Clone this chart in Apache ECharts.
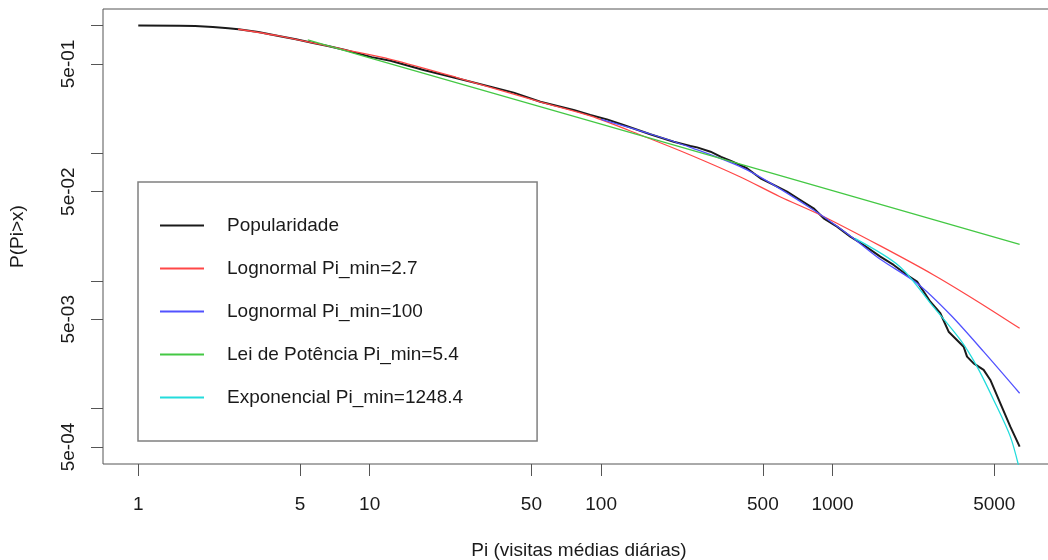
<!DOCTYPE html>
<html>
<head>
<meta charset="utf-8">
<script src="https://cdn.jsdelivr.net/npm/echarts@6/dist/echarts.min.js"></script>
<style>
html,body{margin:0;padding:0;background:#fff;}
#chart{width:1048px;height:560px;}
</style>
</head>
<body>
<div id="chart"></div>
<script>
// ---- Data ----
const seriesNames = ['Popularidade', 'Lognormal Pi_min=2.7', 'Lognormal Pi_min=100', 'Lei de Potência Pi_min=5.4', 'Exponencial Pi_min=1248.4'];

const popX = [1, 1.5, 1.76, 2.1, 2.45, 2.71, 3.3, 4.04, 4.8, 5.63, 6.6, 7.85, 10.2, 12.3, 17.1, 23.8, 33.2, 41.9, 54.6, 76.1, 89.8, 106, 125, 163, 206, 243, 260, 297, 330, 362, 427, 488, 557, 636, 726, 828, 916, 1046, 1194, 1363, 1609, 1837, 2099, 2319, 2647, 2923, 3175, 3686, 3813, 4072, 4498, 4808, 5312, 5867, 6436];
const popY = [1, 0.996, 0.991, 0.975, 0.951, 0.934, 0.89, 0.828, 0.78, 0.733, 0.69, 0.643, 0.565, 0.530, 0.448, 0.386, 0.332, 0.298, 0.253, 0.218, 0.199, 0.184, 0.166, 0.1406, 0.123, 0.114, 0.111, 0.1027, 0.0935, 0.0874, 0.0762, 0.0636, 0.0564, 0.0499, 0.0430, 0.0370, 0.0309, 0.0266, 0.0222, 0.0191, 0.01547, 0.01332, 0.01112, 0.00986, 0.00687, 0.00558, 0.0040, 0.00305, 0.00255, 0.00226, 0.00201, 0.001675, 0.0011, 0.000722, 0.000503];

const lnAllX = [2.7, 4.04, 7.85, 12.3, 23.6, 54.6, 89.8, 148, 243, 400, 593, 887, 1609, 2735, 4200, 6436];
const lnAllY = [0.934, 0.828, 0.645, 0.543, 0.393, 0.252, 0.1956, 0.1388, 0.0968, 0.0651, 0.0456, 0.0328, 0.01877, 0.01112, 0.00696, 0.00425];

const ln100X = [100, 163, 243, 427, 828, 1194, 1609, 2319, 3240, 4498, 6436];
const ln100Y = [0.1836, 0.1413, 0.1112, 0.0739, 0.0359, 0.02247, 0.01476, 0.00958, 0.0054, 0.00279, 0.001318];

const plX = [5.4, 10, 100, 1000, 6436];
const plY = [0.77, 0.557, 0.1687, 0.0510, 0.01935];

const expX = [1248.4, 1956, 2724, 3570, 4212, 4970, 5867, 6436];
const expY = [0.0215, 0.01292, 0.00628, 0.003444, 0.00213, 0.001168, 0.000603, 0.00033];

const xTicks = [1, 5, 10, 50, 100, 500, 1000, 5000];
const yTicks = [1, 0.5, 0.1, 0.05, 0.01, 0.005, 0.001, 0.0005];
const yLabelTicks = [0.5, 0.05, 0.005, 0.0005];

const colors = ['#1a1a1a', '#ff4747', '#5252ff', '#44c844', '#24dcdc'];

// ---- helpers ----
function pairs(xs, ys) { return xs.map((x, i) => [x, ys[i]]); }
function rSci(v) {
  const s = v.toExponential(0).split('e');
  const e = parseInt(s[1], 10);
  const sign = e < 0 ? '-' : '+';
  const a = Math.abs(e);
  return s[0] + 'e' + sign + (a < 10 ? '0' + a : '' + a);
}

const FONT = 'Liberation Sans, Arial, Helvetica, sans-serif';
const TXT = '#1a1a1a';
const AX = '#555';

const chart = echarts.init(document.getElementById('chart'), null, {renderer: 'canvas'});

const lineSeries = (name, data, color, width, smooth, z) => ({
  name: name,
  type: 'line',
  data: data,
  symbol: 'none',
  smooth: smooth,
  clip: true,
  z: z,
  lineStyle: {color: color, width: width},
  itemStyle: {color: color},
  emphasis: {disabled: true},
  animation: false
});

chart.setOption({
  animation: false,
  backgroundColor: '#fff',
  grid: {
    left: 103, top: 9, right: -7, bottom: 96,
    outerBoundsMode: 'none',
    containLabel: false,
    show: true, borderColor: AX, borderWidth: 1, backgroundColor: 'transparent'
  },
  xAxis: {
    type: 'log', logBase: 10, min: 0.704, max: 9150,
    axisLine: {show: false},
    axisTick: {show: true, length: 12, inside: false, customValues: xTicks, lineStyle: {color: AX, width: 1}},
    axisLabel: {customValues: xTicks, margin: 31, fontSize: 19, fontFamily: FONT, color: TXT,
      formatter: v => String(Math.round(v))},
    splitLine: {show: false},
    minorTick: {show: false},
    name: 'Pi (visitas médias diárias)',
    nameLocation: 'middle', nameGap: 77,
    nameTextStyle: {fontSize: 19, fontFamily: FONT, color: TXT}
  },
  yAxis: {
    type: 'log', logBase: 10, min: 0.000368, max: 1.346,
    axisLine: {show: false},
    axisTick: {show: true, length: 12, inside: false, customValues: yTicks, lineStyle: {color: AX, width: 1}},
    axisLabel: {customValues: yLabelTicks, rotate: 90, margin: 25, fontSize: 19, fontFamily: FONT, color: TXT,
      formatter: v => rSci(v)},
    splitLine: {show: false},
    minorTick: {show: false},
    name: 'P(Pi>x)',
    nameLocation: 'middle', nameGap: 76, nameRotate: 90,
    nameTextStyle: {fontSize: 19, fontFamily: FONT, color: TXT}
  },
  legend: {
    show: true,
    orient: 'vertical',
    left: 138, top: 182,
    padding: [34, 74, 34, 21],
    itemWidth: 44, itemHeight: 19, itemGap: 24,
    borderColor: '#808080', borderWidth: 1.5,
    backgroundColor: '#fff',
    selectedMode: false,
    itemStyle: {opacity: 0},
    textStyle: {fontSize: 19, fontFamily: FONT, color: TXT, padding: [0, 0, 0, 18]},
    data: seriesNames
  },
  series: [
    lineSeries(seriesNames[0], pairs(popX, popY), colors[0], 2, false, 2),
    lineSeries(seriesNames[1], pairs(lnAllX, lnAllY), colors[1], 1.3, 0.3, 3),
    lineSeries(seriesNames[2], pairs(ln100X, ln100Y), colors[2], 1.3, 0.3, 4),
    lineSeries(seriesNames[3], pairs(plX, plY), colors[3], 1.3, false, 5),
    lineSeries(seriesNames[4], pairs(expX, expY), colors[4], 1.3, 0.3, 6)
  ]
});
</script>
</body>
</html>
